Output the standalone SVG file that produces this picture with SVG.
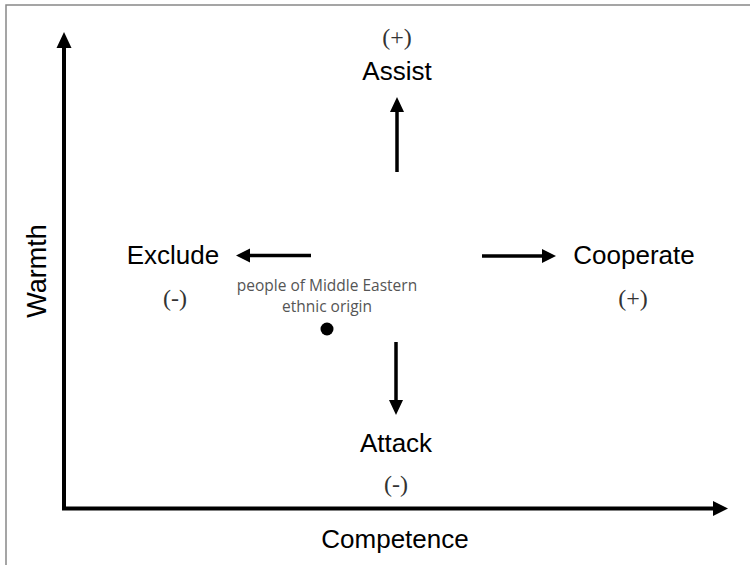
<svg xmlns="http://www.w3.org/2000/svg" width="750" height="565" viewBox="0 0 750 565">
<style>
.lbl{font-family:"Liberation Sans",Arial,sans-serif;font-size:26px;fill:#000;text-anchor:middle}
.sign{font-family:"Liberation Serif","Times New Roman",serif;font-size:24px;fill:#333;text-anchor:middle}
.note{font-family:"Open Sans","Liberation Sans",sans-serif;font-size:15.5px;fill:#555;text-anchor:middle}
.ax{stroke:#000;stroke-width:4;fill:none}
.ar{stroke:#000;stroke-width:3.5;fill:none}
</style>
<rect width="750" height="565" fill="#fff"/>
<path d="M6,565 V5 H750" stroke="#888" stroke-width="1.5" fill="none"/>
<g id="connectors">
<path class="ax" d="M64,508.5 V48"/>
<path d="M56.5,48 L64,32 L71.5,48 Z" fill="#000"/>
<path class="ax" d="M62,508.5 H713"/>
<path d="M713,501 L728,508.5 L713,516 Z" fill="#000"/>
<path class="ar" d="M397,172 V112"/>
<path d="M390,112 L397,97 L404,112 Z" fill="#000"/>
<path class="ar" d="M311,255.5 H250"/>
<path d="M250,248.5 L236,255.5 L250,262.5 Z" fill="#000"/>
<path class="ar" d="M482,256 H542"/>
<path d="M542,249 L556,256 L542,263 Z" fill="#000"/>
<path class="ar" d="M396,342 V400"/>
<path d="M389,400 L396,415 L403,400 Z" fill="#000"/>
</g>
<g id="warmth"><text class="lbl" style="font-size:27px" transform="translate(46,271) rotate(-90)">Warmth</text></g>
<g id="competence"><text class="lbl" x="395" y="548">Competence</text></g>
<g id="assist"><text class="sign" x="397" y="45">(+)</text><text class="lbl" x="397" y="80">Assist</text></g>
<g id="exclude"><text class="lbl" x="173" y="264">Exclude</text><text class="sign" x="175" y="306">(-)</text></g>
<g id="cooperate"><text class="lbl" x="634" y="264">Cooperate</text><text class="sign" x="633" y="306">(+)</text></g>
<g id="attack"><text class="lbl" x="396" y="452">Attack</text><text class="sign" x="396" y="492">(-)</text></g>
<g id="group"><text class="note" x="327" y="291">people of Middle Eastern</text><text class="note" x="327" y="312">ethnic origin</text><circle cx="327" cy="329" r="6.5" fill="#000"/></g>
</svg>
